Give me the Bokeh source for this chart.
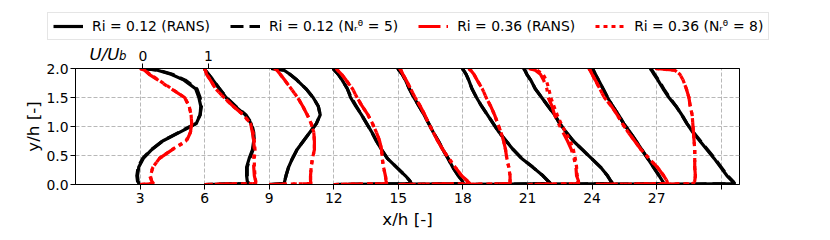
from bokeh.plotting import figure
from bokeh.layouts import column
from bokeh.models import Range1d, LinearAxis, FixedTicker, Legend, LegendItem, Label, ColumnDataSource
from bokeh.embed import file_html
from bokeh.resources import INLINE

# ---------------- data ----------------
stations = [3, 6, 9, 12, 15, 18, 21, 24, 27]          # x/h of each profile
u_scale = 3.0                                        # x/h units per U/U_b
y_h = [2.0, 1.97, 1.9, 1.8, 1.65, 1.5, 1.35, 1.2, 1.05, 0.9, 0.75,
       0.6, 0.45, 0.3, 0.15, 0.06, 0.015, 0.0]

xticks = [3, 6, 9, 12, 15, 18, 21, 24, 27, 30]
yticks = [0.0, 0.5, 1.0, 1.5, 2.0]
uticks = [0, 1]

u_ri012_rans = [
    [0.04, 0.27, 0.48, 0.68, 0.86, 0.91, 0.94, 0.93, 0.87, 0.61, 0.35, 0.18, 0.05, -0.02, -0.04, -0.03, -0.02, 0.0],
    [0.0, 0.01, 0.06, 0.13, 0.23, 0.33, 0.47, 0.63, 0.72, 0.75, 0.76, 0.74, 0.69, 0.65, 0.65, 0.66, 0.68, 0.0],
    [0.03, 0.23, 0.32, 0.43, 0.57, 0.68, 0.76, 0.79, 0.73, 0.63, 0.53, 0.43, 0.36, 0.30, 0.26, 0.24, 0.23, 0.0],
    [-0.01, 0.01, 0.07, 0.13, 0.21, 0.26, 0.34, 0.43, 0.51, 0.59, 0.66, 0.74, 0.83, 0.97, 1.11, 1.18, 1.20, 0.0],
    [-0.01, 0.01, 0.06, 0.11, 0.17, 0.24, 0.32, 0.40, 0.47, 0.54, 0.62, 0.69, 0.77, 0.84, 0.93, 0.99, 1.01, 0.0],
    [-0.01, 0.01, 0.05, 0.09, 0.14, 0.21, 0.29, 0.38, 0.47, 0.56, 0.67, 0.78, 0.91, 1.08, 1.24, 1.32, 1.36, 0.0],
    [-0.06, -0.04, -0.01, 0.05, 0.12, 0.22, 0.32, 0.42, 0.50, 0.60, 0.71, 0.85, 0.99, 1.13, 1.24, 1.29, 1.32, 0.0],
    [0.0, 0.02, 0.05, 0.10, 0.17, 0.24, 0.32, 0.41, 0.49, 0.59, 0.68, 0.77, 0.86, 0.95, 1.04, 1.09, 1.11, 0.0],
    [-0.10, -0.08, -0.04, 0.02, 0.10, 0.19, 0.30, 0.39, 0.47, 0.56, 0.67, 0.78, 0.89, 0.99, 1.09, 1.17, 1.20, 0.0],
]

u_ri012_n5 = [
    [0.05, 0.29, 0.50, 0.70, 0.88, 0.93, 0.95, 0.93, 0.86, 0.60, 0.35, 0.17, 0.04, -0.03, -0.05, -0.04, -0.02, 0.0],
    [0.0, 0.01, 0.06, 0.13, 0.23, 0.34, 0.48, 0.64, 0.73, 0.76, 0.77, 0.75, 0.70, 0.66, 0.66, 0.67, 0.69, 0.0],
    [0.03, 0.23, 0.32, 0.43, 0.57, 0.68, 0.76, 0.79, 0.73, 0.63, 0.53, 0.43, 0.36, 0.30, 0.26, 0.24, 0.23, 0.0],
    [-0.01, 0.01, 0.07, 0.13, 0.21, 0.27, 0.35, 0.43, 0.51, 0.59, 0.66, 0.74, 0.83, 0.97, 1.11, 1.18, 1.20, 0.0],
    [-0.01, 0.01, 0.06, 0.11, 0.17, 0.24, 0.32, 0.40, 0.47, 0.54, 0.62, 0.69, 0.77, 0.84, 0.93, 0.99, 1.01, 0.0],
    [-0.01, 0.01, 0.05, 0.09, 0.14, 0.21, 0.29, 0.38, 0.47, 0.56, 0.67, 0.78, 0.91, 1.08, 1.24, 1.32, 1.36, 0.0],
    [-0.06, -0.04, -0.01, 0.05, 0.12, 0.22, 0.32, 0.42, 0.50, 0.60, 0.71, 0.85, 0.99, 1.13, 1.24, 1.29, 1.32, 0.0],
    [0.0, 0.02, 0.05, 0.10, 0.17, 0.24, 0.32, 0.41, 0.49, 0.59, 0.68, 0.77, 0.86, 0.95, 1.04, 1.09, 1.11, 0.0],
    [-0.09, -0.07, -0.03, 0.03, 0.11, 0.20, 0.30, 0.39, 0.47, 0.57, 0.68, 0.79, 0.90, 1.00, 1.10, 1.18, 1.21, 0.0],
]

u_ri036_rans = [
    [0.0, 0.07, 0.14, 0.28, 0.48, 0.69, 0.76, 0.79, 0.80, 0.78, 0.72, 0.50, 0.30, 0.20, 0.15, 0.18, 0.21, 0.0],
    [0.0, 0.01, 0.03, 0.09, 0.17, 0.30, 0.44, 0.60, 0.71, 0.74, 0.76, 0.77, 0.76, 0.76, 0.77, 0.79, 0.79, 0.0],
    [0.08, 0.12, 0.17, 0.24, 0.34, 0.44, 0.52, 0.59, 0.65, 0.69, 0.70, 0.70, 0.67, 0.65, 0.64, 0.64, 0.65, 0.0],
    [0.04, 0.06, 0.12, 0.19, 0.29, 0.36, 0.44, 0.53, 0.60, 0.66, 0.71, 0.74, 0.75, 0.77, 0.80, 0.81, 0.82, 0.0],
    [0.02, 0.04, 0.07, 0.12, 0.19, 0.26, 0.34, 0.41, 0.47, 0.54, 0.61, 0.69, 0.78, 0.88, 0.98, 1.07, 1.11, 0.0],
    [0.09, 0.12, 0.17, 0.22, 0.30, 0.36, 0.43, 0.49, 0.54, 0.59, 0.63, 0.66, 0.68, 0.71, 0.73, 0.73, 0.73, 0.0],
    [0.02, 0.12, 0.20, 0.25, 0.30, 0.32, 0.38, 0.42, 0.48, 0.55, 0.62, 0.68, 0.72, 0.75, 0.76, 0.79, 0.79, 0.0],
    [-0.05, -0.03, 0.0, 0.05, 0.12, 0.19, 0.30, 0.39, 0.47, 0.56, 0.66, 0.76, 0.88, 1.01, 1.11, 1.16, 1.17, 0.0],
    [-0.02, 0.28, 0.36, 0.41, 0.46, 0.50, 0.52, 0.55, 0.56, 0.57, 0.58, 0.59, 0.59, 0.59, 0.60, 0.59, 0.57, 0.0],
]

u_ri036_n8 = [
    [0.0, 0.08, 0.15, 0.29, 0.49, 0.69, 0.76, 0.79, 0.80, 0.78, 0.71, 0.49, 0.30, 0.20, 0.16, 0.18, 0.21, 0.0],
    [0.0, 0.01, 0.03, 0.09, 0.17, 0.30, 0.44, 0.60, 0.71, 0.75, 0.77, 0.78, 0.77, 0.77, 0.78, 0.79, 0.79, 0.0],
    [0.08, 0.12, 0.17, 0.24, 0.34, 0.44, 0.52, 0.59, 0.65, 0.69, 0.70, 0.70, 0.67, 0.65, 0.64, 0.64, 0.65, 0.0],
    [0.04, 0.06, 0.12, 0.19, 0.29, 0.36, 0.44, 0.53, 0.60, 0.66, 0.71, 0.74, 0.75, 0.77, 0.80, 0.81, 0.82, 0.0],
    [0.02, 0.04, 0.07, 0.12, 0.19, 0.26, 0.34, 0.41, 0.47, 0.54, 0.61, 0.69, 0.78, 0.88, 0.98, 1.07, 1.11, 0.0],
    [0.09, 0.12, 0.17, 0.22, 0.30, 0.36, 0.43, 0.49, 0.54, 0.59, 0.63, 0.66, 0.68, 0.71, 0.73, 0.73, 0.73, 0.0],
    [0.03, 0.15, 0.24, 0.29, 0.33, 0.36, 0.41, 0.46, 0.52, 0.59, 0.66, 0.71, 0.74, 0.76, 0.77, 0.78, 0.78, 0.0],
    [-0.05, -0.03, 0.0, 0.05, 0.12, 0.19, 0.30, 0.39, 0.47, 0.56, 0.66, 0.76, 0.88, 1.01, 1.11, 1.16, 1.17, 0.0],
    [-0.02, 0.28, 0.36, 0.41, 0.46, 0.50, 0.52, 0.55, 0.56, 0.57, 0.58, 0.59, 0.59, 0.59, 0.60, 0.59, 0.57, 0.0],
]

labels = ["Ri = 0.12 (RANS)", "Ri = 0.12 (N\u1d63\u1dbf = 5)",
          "Ri = 0.36 (RANS)", "Ri = 0.36 (N\u1d63\u1dbf = 8)"]

FONT = "DejaVu Sans"
LW = 3.2
styles = [dict(line_color="#000000", line_width=LW, line_join="round"),
          dict(line_color="#000000", line_width=LW, line_dash="13 6"),
          dict(line_color="#ff0000", line_width=LW, line_dash="22 6 4 6"),
          dict(line_color="#ff0000", line_width=LW, line_dash="4 4")]
series = [u_ri012_rans, u_ri012_n5, u_ri036_rans, u_ri036_n8]

W = 814
HEAD_H = 62
U0_PX, U1_PX = 142.3, 208.0          # page x of U/U_b = 0 and 1
PX_PER_U = U1_PX - U0_PX

# ---------------- header strip: legend + top-axis captions ----------------
head = figure(width=W, height=HEAD_H, output_backend="svg", toolbar_location=None,
              x_range=Range1d(0, 1), y_range=Range1d(0, 1),
              x_axis_location=None, y_axis_location=None,
              min_border_left=0, min_border_right=0, min_border_top=0, min_border_bottom=0)
p = figure(width=W, height=236 - HEAD_H, output_backend="svg", toolbar_location=None,
           x_range=Range1d(0, 30.85), y_range=Range1d(0, 2.0),
           min_border_left=75, min_border_right=75, min_border_top=6, min_border_bottom=52)

if "frame_align" in head.properties():
    head.frame_align = False
    p.frame_align = False
    X0, FW, SPACING = 0, W, 20
else:
    X0, FW, SPACING = 75, W - 150, 1

head.x_range = Range1d((X0 - U0_PX) / PX_PER_U, (X0 + FW - U0_PX) / PX_PER_U)
head.outline_line_color = None
head.xgrid.visible = False
head.ygrid.visible = False
head.background_fill_color = "white"
head.border_fill_color = "white"

dummies = [head.multi_line(xs=[[]], ys=[[]], **st) for st in styles]
legend = Legend(items=[LegendItem(label=lab, renderers=[r]) for lab, r in zip(labels, dummies)],
                orientation="horizontal", location=(max(47 - X0, 0), HEAD_H - 40),
                glyph_width=30, glyph_height=16, label_standoff=9, spacing=SPACING,
                padding=5, margin=0, label_height=16,
                label_text_font=FONT, label_text_font_size="13.9px",
                label_text_color="#000000",
                border_line_color="#cccccc", border_line_width=1,
                background_fill_color="white", background_fill_alpha=0.85)
head.add_layout(legend)

head.add_layout(Label(x=89 - X0, y=HEAD_H - 53, x_units="screen", y_units="screen", text="U/U",
                      text_font=FONT, text_font_size="16.7px", text_font_style="italic",
                      text_color="#000000", text_baseline="alphabetic", text_align="left"))
head.add_layout(Label(x=118.5 - X0, y=HEAD_H - 55.5, x_units="screen", y_units="screen", text="b",
                      text_font=FONT, text_font_size="11.7px", text_font_style="italic",
                      text_color="#000000", text_baseline="alphabetic", text_align="left"))
for t in uticks:
    head.add_layout(Label(x=t, y=HEAD_H - 55, x_units="data", y_units="screen", text=str(t),
                          text_font=FONT, text_font_size="13.9px",
                          text_color="#000000", text_baseline="alphabetic", text_align="center"))

# ---------------- main plot ----------------
p.background_fill_color = "white"
p.border_fill_color = "white"
p.outline_line_color = "#000000"
p.outline_line_width = 1

def src(us):
    xs = [[s + u_scale * u for u in row] for s, row in zip(stations, us)]
    ys = [list(y_h) for _ in stations]
    return ColumnDataSource(dict(xs=xs, ys=ys))

for us, st in zip(series, styles):
    p.multi_line("xs", "ys", source=src(us), **st)

bottom = p.below[0]
left = p.left[0]
bottom.ticker = FixedTicker(ticks=xticks)
bottom.major_label_overrides = {30: ""}
left.ticker = FixedTicker(ticks=yticks)
left.major_label_overrides = {0.0: "0.0", 0.5: "0.5", 1.0: "1.0", 1.5: "1.5", 2.0: "2.0"}
bottom.axis_label = "x/h [-]"
left.axis_label = "y/h [-]"

p.extra_x_ranges = {"u": Range1d((75 - U0_PX) / PX_PER_U, (739 - U0_PX) / PX_PER_U)}
top = LinearAxis(x_range_name="u", ticker=FixedTicker(ticks=uticks),
                 major_label_overrides={0: "", 1: ""})
p.add_layout(top, "above")

for ax in [bottom, left, top]:
    ax.major_tick_out = 5
    ax.major_tick_in = 0
    ax.minor_tick_out = 0
    ax.minor_tick_in = 0
    ax.axis_line_color = "#000000"
    ax.major_tick_line_color = "#000000"
    ax.major_label_text_font = FONT
    ax.major_label_text_font_size = "13.9px"
    ax.major_label_text_color = "#000000"
    ax.axis_label_text_font = FONT
    ax.axis_label_text_font_size = "16.7px"
    ax.axis_label_text_font_style = "normal"
    ax.axis_label_text_color = "#000000"
    ax.major_label_standoff = 3
left.major_label_standoff = 2
bottom.axis_label_standoff = 3
left.axis_label_standoff = 0
top.major_label_standoff = 0
top.major_label_text_font_size = "0px"

p.xgrid.ticker = FixedTicker(ticks=xticks)
p.ygrid.ticker = FixedTicker(ticks=yticks)
for g in [p.xgrid[0], p.ygrid[0]]:
    g.grid_line_color = "#b0b0b0"
    g.grid_line_dash = "4 2"
    g.grid_line_width = 0.9

layout = column(head, p, spacing=0)
open("out.html", "w").write(file_html(layout, INLINE))
